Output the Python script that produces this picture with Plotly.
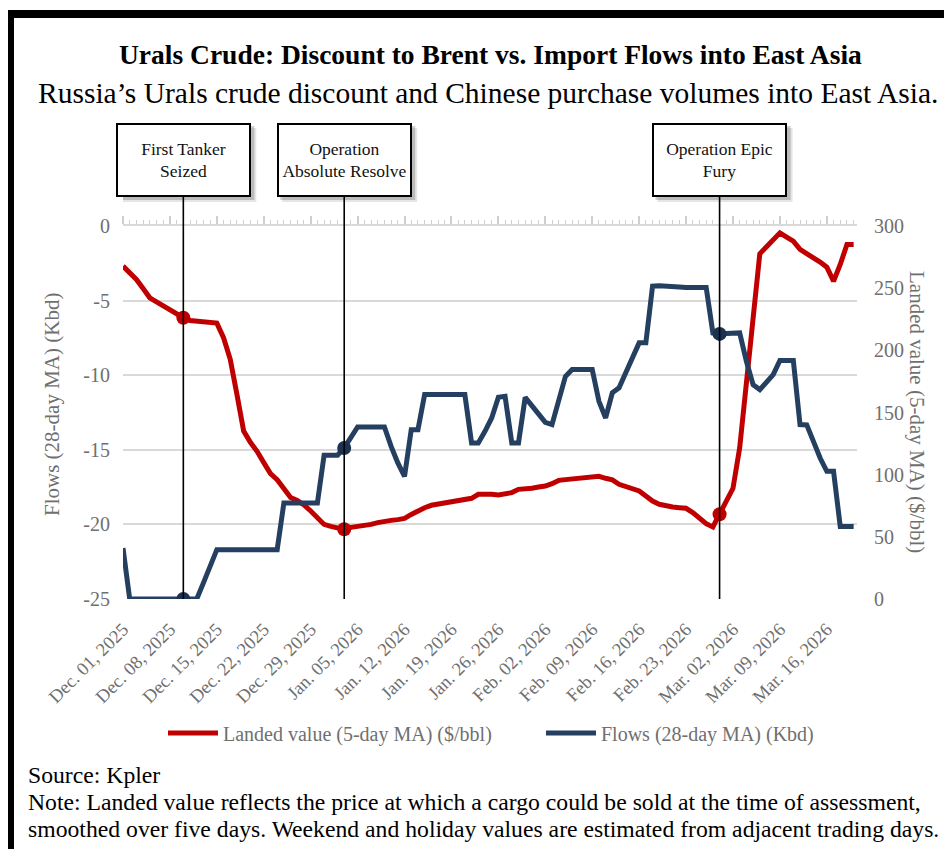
import plotly.graph_objects as go
import pandas as pd

# ---------------- data ----------------
dates = pd.date_range("2025-12-01", "2026-03-20", freq="D").strftime("%Y-%m-%d").tolist()

landed_value = [
    -2.69, -3.14, -3.58, -4.19, -4.81, -5.08, -5.37, -5.64, -5.93, -6.15,
    -6.33, -6.38, -6.42, -6.46, -6.51, -7.49, -8.94, -11.29, -13.74, -14.5,
    -15.1, -15.86, -16.6, -17.0, -17.6, -18.2, -18.4, -18.7, -19.1, -19.6,
    -20.0, -20.13, -20.2, -20.33, -20.2, -20.15, -20.06, -20.0, -19.88, -19.77,
    -19.73, -19.68, -19.6, -19.33, -19.06, -18.88, -18.72, -18.65, -18.57, -18.47,
    -18.36, -18.32, -18.25, -17.98, -17.94, -17.98, -18.03, -17.98, -17.87, -17.65,
    -17.63, -17.58, -17.49, -17.43, -17.27, -17.05, -17.0, -16.96, -16.93, -16.93,
    -16.87, -16.78, -16.91, -17.02, -17.31, -17.49, -17.63, -17.76, -18.1, -18.43,
    -18.65, -18.77, -18.83, -18.88, -18.92, -19.21, -19.6, -19.95, -20.17, -19.32,
    -18.43, -17.58, -14.86, -10.28, -6.38, -1.86, -1.39, -0.9, -0.46, -0.75,
    -1.02, -1.57, -1.84, -2.13, -2.42, -2.76, -3.7, -2.58, -1.24, -1.24,
]

flows = [
    41, 0, 0, 0, 0, 0, 0, 0, 0, 0,
    0, 0, 13, 26.5, 39.7, 39.7, 39.7, 39.7, 39.7, 39.7,
    39.7, 39.7, 39.7, 39.7, 77.2, 77.2, 77.2, 77.2, 77.2, 77.2,
    115.6, 115.6, 115.6, 121.5, 130.9, 138.4, 138.4, 138.4, 138.4, 138.4,
    122.8, 109.4, 98.7, 136.2, 136.2, 164.4, 164.4, 164.4, 164.4, 164.4,
    164.4, 164.4, 125.5, 125.5, 134.9, 145.6, 162.3, 163, 125.5, 125.5,
    162.2, 155.6, 148.8, 142.1, 140.3, 159, 179, 184.5, 184.5, 184.5,
    184.5, 159, 145.6, 165.8, 169.8, 181.9, 193.9, 206, 206, 251.6,
    252, 252, 251.3, 251, 250.6, 250.6, 250.6, 250.6, 214, 213.2,
    213.5, 214, 214, 191.2, 172.4, 168.4, 173.8, 180.5, 191.8, 191.8,
    191.8, 140.3, 140, 126.8, 113.4, 102.7, 102.7, 58.4, 58.4, 58.4,
]

event_dates = ["2025-12-10", "2026-01-03", "2026-02-28"]
event_labels = ["First Tanker<br>Seized", "Operation<br>Absolute Resolve", "Operation Epic<br>Fury"]

tick_dates = pd.date_range("2025-12-01", "2026-03-16", freq="7D").strftime("%Y-%m-%d").tolist()

left_ticks = [-25, -20, -15, -10, -5, 0]
left_tick_text = ["-25", "-20", "-15", "-10", "-5", "0"]
right_ticks = [0, 50, 100, 150, 200, 250, 300]

red_name = "Landed value (5-day MA) ($/bbl)"
blue_name = "Flows (28-day MA) (Kbd)"

# ---------------- layout geometry ----------------
OFF = 8                      # page body margin
W, H = 952 - OFF, 849 - OFF
L, R, T, B = 115, 95, 218, 250
PW, PH = W - L - R, H - T - B

def px_x(px):                # page pixel -> paper x
    return (px - OFF - L) / PW

def px_y(py):                # page pixel -> paper y
    return (H - B - (py - OFF)) / PH

RED = "#C00000"
BLUE = "#243F60"
GRAY = "#6f6f6f"
GRID = "#d9d9d9"
FONT = "Liberation Serif"

fig = go.Figure()

fig.add_trace(go.Scatter(
    x=dates, y=flows, name=blue_name, mode="lines",
    line=dict(color=BLUE, width=5), yaxis="y2", legend="legend2",
))
fig.add_trace(go.Scatter(
    x=dates, y=landed_value, name=red_name, mode="lines",
    line=dict(color=RED, width=5), yaxis="y", legend="legend",
))

idx = [dates.index(d) for d in event_dates]
fig.add_trace(go.Scatter(
    x=event_dates, y=[landed_value[i] for i in idx], mode="markers",
    marker=dict(color=RED, size=14), showlegend=False, yaxis="y",
))
fig.add_trace(go.Scatter(
    x=event_dates, y=[flows[i] for i in idx], mode="markers",
    marker=dict(color="#1b3350", size=14), showlegend=False, yaxis="y2",
))
# carrier for the top tick axis
fig.add_trace(go.Scatter(
    x=[dates[0]], y=[None], xaxis="x2", yaxis="y", mode="lines",
    showlegend=False, hoverinfo="skip",
))

shapes = []
annotations = []

box_cy = px_y(160)
for d, lab in zip(event_dates, event_labels):
    shapes.append(dict(type="line", xref="x", yref="paper", x0=d, x1=d,
                       y0=0, y1=px_y(197), line=dict(color="black", width=1.6),
                       layer="above"))
    for off, op in [(5, 0.10), (3, 0.18)]:
        shapes.append(dict(type="rect", xref="x", xsizemode="pixel", xanchor=d,
                           x0=-67 + off, x1=68 + off,
                           yref="paper", ysizemode="pixel", yanchor=box_cy,
                           y0=-37 - off, y1=37 - off,
                           fillcolor=f"rgba(0,0,0,{op})", line=dict(width=0),
                           layer="above"))
    annotations.append(dict(x=d, xref="x", y=box_cy, yref="paper",
                            text=lab, showarrow=False, xanchor="center",
                            yanchor="middle", width=131, height=70,
                            bgcolor="white", bordercolor="black", borderwidth=2,
                            borderpad=0,
                            font=dict(family=FONT, size=17.5, color="#111111")))

# outer frame (cut off at right / bottom like the original)
shapes.append(dict(type="rect", xref="paper", yref="paper",
                   x0=px_x(10), x1=px_x(990), y0=px_y(900), y1=px_y(14),
                   line=dict(color="black", width=8), layer="below"))

# titles
annotations.append(dict(x=px_x(490), y=px_y(55), xref="paper", yref="paper",
                        text="<b>Urals Crude: Discount to Brent vs. Import Flows into East Asia</b>",
                        showarrow=False, xanchor="center", yanchor="middle",
                        font=dict(family=FONT, size=27.5, color="black")))
annotations.append(dict(x=px_x(488), y=px_y(93), xref="paper", yref="paper",
                        text="Russia\u2019s Urals crude discount and Chinese purchase volumes into East Asia.",
                        showarrow=False, xanchor="center", yanchor="middle",
                        font=dict(family=FONT, size=29.5, color="black")))
# axis titles
annotations.append(dict(x=px_x(52), y=px_y(405), xref="paper", yref="paper",
                        text=blue_name, textangle=-90, showarrow=False,
                        xanchor="center", yanchor="middle",
                        font=dict(family=FONT, size=21, color=GRAY)))
annotations.append(dict(x=px_x(917), y=px_y(412), xref="paper", yref="paper",
                        text=red_name, textangle=90, showarrow=False,
                        xanchor="center", yanchor="middle",
                        font=dict(family=FONT, size=21, color=GRAY)))
# footer
for txt, py in [("Source: Kpler", 775),
                ("Note: Landed value reflects the price at which a cargo could be sold at the time of assessment,", 802),
                ("smoothed over five days. Weekend and holiday values are estimated from adjacent trading days.", 829)]:
    annotations.append(dict(x=px_x(26), y=px_y(py), xref="paper", yref="paper",
                            text=txt, showarrow=False, xanchor="left", yanchor="middle",
                            font=dict(family=FONT, size=23.7, color="black")))

legend_style = dict(orientation="h", xanchor="left", yanchor="middle",
                    y=px_y(733), font=dict(family=FONT, size=20, color=GRAY),
                    itemwidth=50, bgcolor="rgba(0,0,0,0)")

fig.update_layout(
    width=W, height=H,
    margin=dict(l=L, r=R, t=T, b=B),
    paper_bgcolor="white", plot_bgcolor="white",
    font=dict(family=FONT, color=GRAY),
    showlegend=True,
    legend=dict(x=px_x(163), **legend_style),
    legend2=dict(x=px_x(541), **legend_style),
    xaxis=dict(type="date", range=["2025-12-01", "2026-03-20 12:00"],
               tickvals=tick_dates, tickformat="%b. %d, %Y", tickangle=-45,
               tickfont=dict(family=FONT, size=18.5, color=GRAY),
               ticklabelstandoff=15,
               showgrid=False, zeroline=False, showline=False, ticks=""),
    xaxis2=dict(type="date", overlaying="x", matches="x", side="top",
                showticklabels=False, ticks="outside", ticklen=8, tickwidth=1.5,
                tickcolor="#cfcfcf", tickvals=tick_dates,
                minor=dict(ticks="outside", ticklen=4, tickwidth=1,
                           tickcolor="#cfcfcf", dtick=86400000, showgrid=False),
                showline=True, linecolor=GRID, linewidth=2, showgrid=False,
                zeroline=False),
    yaxis=dict(range=[-25, 0], tickvals=left_ticks, ticktext=left_tick_text,
               showgrid=True, gridcolor=GRID,
               gridwidth=2, zeroline=False, showline=False, ticks="",
               tickfont=dict(family=FONT, size=20, color=GRAY),
               ticklabelstandoff=12),
    yaxis2=dict(range=[0, 300], tickvals=right_ticks, overlaying="y", side="right",
                showgrid=False, zeroline=False, showline=False, ticks="",
                tickfont=dict(family=FONT, size=20, color=GRAY),
                ticklabelstandoff=16),
    shapes=shapes,
    annotations=annotations,
    hovermode=False,
)

fig.write_html("out.html")
